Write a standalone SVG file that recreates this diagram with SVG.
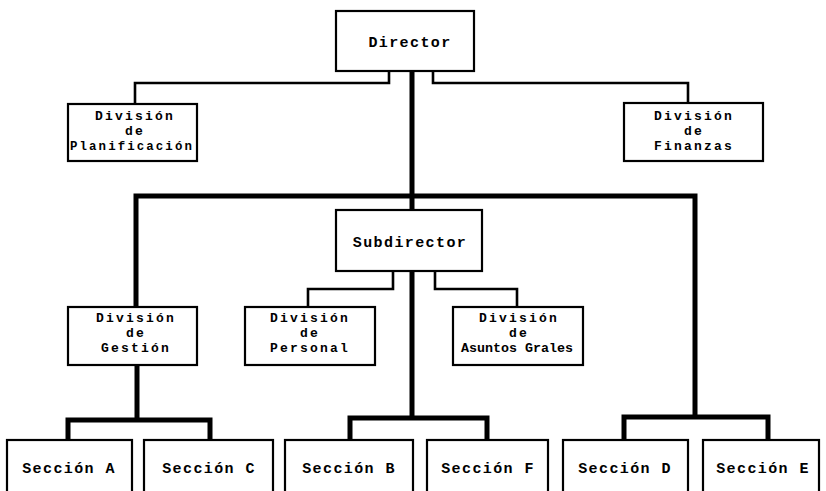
<svg xmlns="http://www.w3.org/2000/svg" width="826" height="491" viewBox="0 0 826 491">
  <style>
    .box { fill: #fff; stroke: #000; stroke-width: 2.2; }
    .t { font-family: "Liberation Mono", "DejaVu Sans Mono", monospace; font-weight: bold; font-size: 15px; letter-spacing: 1.4px; text-anchor: middle; fill: #000; }
    .s { font-size: 13px; letter-spacing: 2.2px; }
    .thin { fill: none; stroke: #000; stroke-width: 2.6; stroke-linejoin: miter; }
    .thick { fill: none; stroke: #000; stroke-width: 5; stroke-linejoin: miter; }
  </style>
  <rect width="826" height="491" fill="#fff"/>

  <!-- connectors -->
  <g id="connectors">
    <!-- Director to staff divisions -->
    <polyline class="thin" points="389,71 389,83 135,83 135,104"/>
    <polyline class="thin" points="433,71 433,83 688,83 688,103"/>
    <!-- main trunk -->
    <line class="thick" x1="412" y1="71" x2="412" y2="210"/>
    <polyline class="thick" points="136,307 136,196 695,196 695,417"/>
    <!-- Subdirector to its divisions -->
    <polyline class="thin" points="393,271 393,289 308,289 308,307"/>
    <polyline class="thin" points="435,271 435,289 517,289 517,307"/>
    <line class="thick" x1="412" y1="271" x2="412" y2="418"/>
    <!-- section groups -->
    <line class="thick" x1="137" y1="365" x2="137" y2="420"/>
    <polyline class="thick" points="68,440 68,420 210,420 210,440"/>
    <polyline class="thick" points="350,440 350,418 487,418 487,440"/>
    <polyline class="thick" points="624,440 624,417 768,417 768,440"/>
  </g>

  <g id="director">
    <rect class="box" x="336" y="11" width="138" height="60"/>
    <text class="t" x="410" y="47">Director</text>
  </g>

  <g id="div-planificacion">
    <rect class="box" x="68" y="104" width="129" height="57"/>
    <text class="t s" x="135" y="120">División</text>
    <text class="t s" x="135" y="135">de</text>
    <text class="t s" x="132" y="150" textLength="124" lengthAdjust="spacingAndGlyphs">Planificación</text>
  </g>

  <g id="div-finanzas">
    <rect class="box" x="624" y="103" width="139" height="58"/>
    <text class="t s" x="694" y="120">División</text>
    <text class="t s" x="694" y="135">de</text>
    <text class="t s" x="694" y="150">Finanzas</text>
  </g>

  <g id="subdirector">
    <rect class="box" x="336" y="210" width="146" height="61"/>
    <text class="t" x="410" y="247">Subdirector</text>
  </g>

  <g id="div-gestion">
    <rect class="box" x="68" y="307" width="129" height="58"/>
    <text class="t s" x="136" y="322">División</text>
    <text class="t s" x="136" y="337">de</text>
    <text class="t s" x="136" y="352">Gestión</text>
  </g>

  <g id="div-personal">
    <rect class="box" x="245" y="307" width="130" height="58"/>
    <text class="t s" x="310" y="322">División</text>
    <text class="t s" x="310" y="337">de</text>
    <text class="t s" x="310" y="352">Personal</text>
  </g>

  <g id="div-asuntos">
    <rect class="box" x="453" y="307" width="130" height="58"/>
    <text class="t s" x="519" y="322">División</text>
    <text class="t s" x="519" y="337">de</text>
    <text class="t s" x="517" y="352" textLength="112" lengthAdjust="spacingAndGlyphs" style="letter-spacing:0">Asuntos Grales</text>
  </g>

  <g id="seccion-a">
    <rect class="box" x="7" y="440" width="125" height="70"/>
    <text class="t" x="69" y="473">Sección A</text>
  </g>
  <g id="seccion-c">
    <rect class="box" x="144" y="440" width="129" height="70"/>
    <text class="t" x="209" y="473">Sección C</text>
  </g>
  <g id="seccion-b">
    <rect class="box" x="285" y="440" width="128" height="70"/>
    <text class="t" x="349" y="473">Sección B</text>
  </g>
  <g id="seccion-f">
    <rect class="box" x="427" y="440" width="121" height="70"/>
    <text class="t" x="488" y="473">Sección F</text>
  </g>
  <g id="seccion-d">
    <rect class="box" x="563" y="440" width="125" height="70"/>
    <text class="t" x="625" y="473">Sección D</text>
  </g>
  <g id="seccion-e">
    <rect class="box" x="703" y="440" width="116" height="70"/>
    <text class="t" x="763" y="473">Sección E</text>
  </g>
</svg>
